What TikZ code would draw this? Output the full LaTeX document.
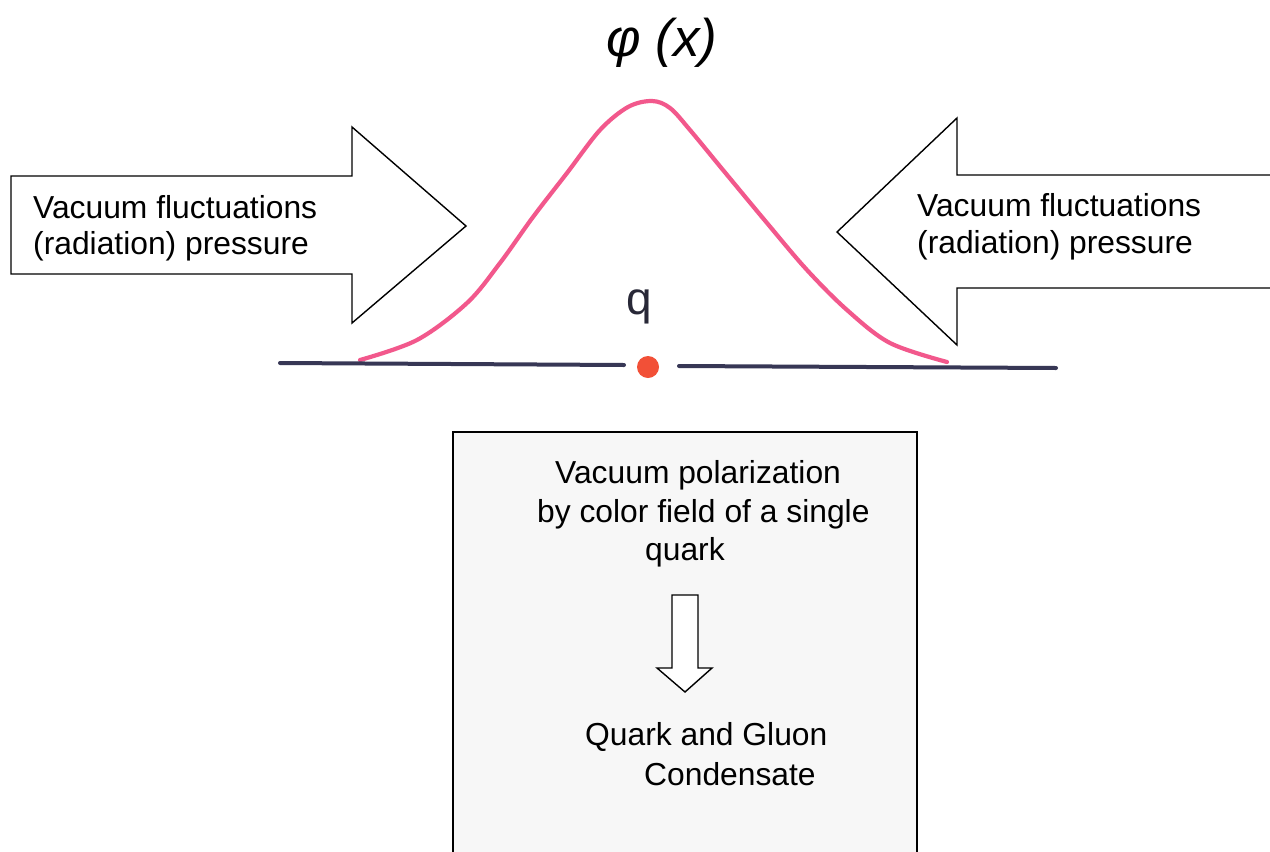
\documentclass[tikz,border=0pt]{standalone}
\usepackage{fontspec}
\setmainfont{Liberation Sans}
\definecolor{axiscol}{RGB}{55,55,85}
\definecolor{curvecol}{RGB}{242,88,140}
\definecolor{dotcol}{RGB}{242,80,55}
\definecolor{qcol}{RGB}{40,40,55}
\definecolor{boxfill}{RGB}{247,247,247}
\begin{document}
\begin{tikzpicture}[x=1pt,y=-1pt,
  lbl/.style={anchor=base west,inner sep=0pt,font=\fontsize{31.8}{36}\selectfont},
  bigarrow/.style={draw=black,line width=1.4pt,fill=white,line join=miter},
  axisline/.style={draw=axiscol,line width=4pt,line cap=round},
  curve/.style={draw=curvecol,line width=4.2pt,line cap=round,line join=round}]
\useasboundingbox (0,0) rectangle (1270,852);
\clip (0,0) rectangle (1270,852);
\fill[white] (0,0) rectangle (1270,852);
% title
\node[anchor=base,inner sep=0pt,font=\fontsize{53}{58}\selectfont\itshape] (title) at (662,56) {φ (x)};
% gaussian
\draw[curve] plot[smooth,tension=0.55] coordinates {(360,360) (417,340) (467,303) (500,263) (533,217) (567,173) (600,130) (628,107) (652,101) (670,108) (690,130) (723,170) (767,223) (807,270) (847,310) (890,343) (947,362)};
% axis
\coordinate (l1) at (280,363);
\coordinate (l2) at (624,365);
\coordinate (r1) at (679,366);
\coordinate (r2) at (1056,368);
\draw[axisline] (l1) -- (l2);
\draw[axisline] (r1) -- (r2);
\fill[dotcol] (648,367) circle (11);
\node[anchor=base,inner sep=0pt,font=\fontsize{46}{50}\selectfont,text=qcol] (q) at (639,314) {q};
% left arrow
\draw[bigarrow] (11,176) -- (352,176) -- (352,127) -- (466,226) -- (352,323) -- (352,274) -- (11,274) -- cycle;
\node[lbl] (lt1) at (33,218) {Vacuum fluctuations};
\node[lbl] (lt2) at (33,254) {(radiation) pressure};
% right arrow
\draw[bigarrow] (1280,175) -- (957,175) -- (957,118) -- (837,232) -- (957,345) -- (957,288) -- (1280,288);
\node[lbl] (rt1) at (917,216) {Vacuum fluctuations};
\node[lbl] (rt2) at (917,253) {(radiation) pressure};
% box
\draw[line width=1.6pt,fill=boxfill] (453,432) rectangle (917,880);
\node[lbl] (b1) at (555,483) {Vacuum polarization};
\node[lbl] (b2) at (537,522) {by color field of a single};
\node[lbl] (b3) at (645,560) {quark};
\draw[line width=1.4pt,fill=white] (672,595) -- (698,595) -- (698,668) -- (712,668) -- (685,692) -- (657,668) -- (672,668) -- cycle;
\node[lbl] (b4) at (585,745) {Quark and Gluon};
\node[lbl] (b5) at (644,785) {Condensate};
\end{tikzpicture}
\end{document}
